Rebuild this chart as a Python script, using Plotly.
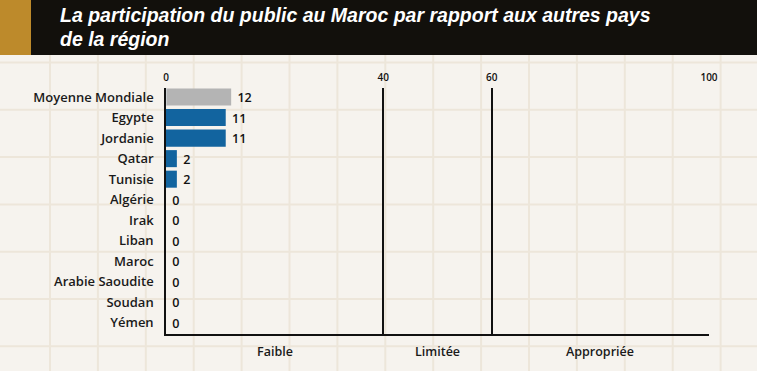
import plotly.graph_objects as go

categories = ["Moyenne Mondiale", "Egypte", "Jordanie", "Qatar", "Tunisie", "Algérie",
              "Irak", "Liban", "Maroc", "Arabie Saoudite", "Soudan", "Yémen"]
values = [12, 11, 11, 2, 2, 0, 0, 0, 0, 0, 0, 0]
tick_vals = [0, 40, 60, 100]
tick_text = ["0", "40", "60", "100"]
zones = ["Faible", "Limitée", "Appropriée"]
zone_mid = [20, 50, 80]
title_lines = ["La participation du public au Maroc par rapport aux autres pays", "de la région"]

W, H = 757, 371
L, R, T, B = 166, 48, 88, 37
PW, PH = W - L - R, H - T - B

def px(x):
    return (x - L) / PW

def py(y):
    return (H - B - y) / PH

colors = ["#b4b4b4"] + ["#12649f"] * (len(categories) - 1)

fig = go.Figure()
fig.add_trace(go.Bar(
    x=values, y=categories, orientation="h",
    marker=dict(color=colors, line=dict(width=0)),
    text=[" " + str(v) for v in values], textposition="outside",
    textfont=dict(family="Open Sans", size=14, color="#111111", weight=600),
    cliponaxis=False, hoverinfo="skip",
))
# transparent trace on bottom axis so the bottom frame line is drawn by an axis
fig.add_trace(go.Bar(x=[0], y=[categories[0]], orientation="h", xaxis="x2",
                     marker=dict(color="rgba(0,0,0,0)"), showlegend=False, hoverinfo="skip"))

shapes = []
grid_col = "#ede6da"
k = 0
while 50 + 47.9 * k < W:
    xx = 50 + 47.9 * k
    shapes.append(dict(type="line", xref="paper", yref="paper", x0=px(xx), x1=px(xx),
                       y0=py(H), y1=py(55), line=dict(color=grid_col, width=2), layer="below"))
    k += 1
k = 0
while 62.5 + 47.3 * k < H:
    yy = 62.5 + 47.3 * k
    shapes.append(dict(type="line", xref="paper", yref="paper", x0=px(0), x1=px(W),
                       y0=py(yy), y1=py(yy), line=dict(color=grid_col, width=2), layer="below"))
    k += 1
# title band
shapes.append(dict(type="rect", xref="paper", yref="paper", x0=px(0), x1=px(W),
                   y0=py(55), y1=py(0), fillcolor="#12100c", line=dict(width=0), layer="below"))
shapes.append(dict(type="rect", xref="paper", yref="paper", x0=px(0), x1=px(31),
                   y0=py(55), y1=py(0), fillcolor="#bd8a2b", line=dict(width=0), layer="below"))

annotations = []
for i, line in enumerate(title_lines):
    annotations.append(dict(text=line, xref="paper", yref="paper", x=px(58), y=py(15 + 24.5 * i),
                            xanchor="left", yanchor="middle", showarrow=False,
                            font=dict(family="Liberation Sans, Arial, sans-serif",
                                      size=19.5, color="white", weight="bold", style="italic")))
for z, m in zip(zones, zone_mid):
    annotations.append(dict(text=z, x=m, xref="x", yref="paper", y=py(351), yanchor="middle",
                            showarrow=False,
                            font=dict(family="Open Sans", size=12.5, color="#1a1a1a", weight=600)))

fig.update_layout(
    width=W, height=H, margin=dict(l=L, r=R, t=T, b=B),
    paper_bgcolor="#f6f3ee", plot_bgcolor="rgba(0,0,0,0)",
    showlegend=False, bargap=0.17, barmode="overlay",
    shapes=shapes, annotations=annotations,
    xaxis=dict(range=[0, 100], side="top", tickvals=tick_vals, ticktext=tick_text,
               showgrid=True, gridcolor="#111111", gridwidth=1.5, zeroline=False,
               showline=False, ticks="", ticklabelstandoff=4,
               tickfont=dict(family="Open Sans", size=10, color="#111111", weight=600),
               fixedrange=True),
    xaxis2=dict(range=[0, 100], overlaying="x", side="bottom", showgrid=False,
                zeroline=False, showline=True, linecolor="#111111", linewidth=1.5,
                showticklabels=False, ticks=""),
    yaxis=dict(categoryorder="array", categoryarray=categories,
               range=[11.54, -0.44], showline=True, linecolor="#111111", linewidth=1.5,
               showgrid=False, zeroline=False, ticks="", ticklabelstandoff=8,
               tickfont=dict(family="Open Sans", size=13, color="#1a1a1a", weight=600)),
)

fig.write_html("out.html", config={"displayModeBar": False},
               post_script="document.body.style.margin='0';document.body.style.overflow='hidden';")
